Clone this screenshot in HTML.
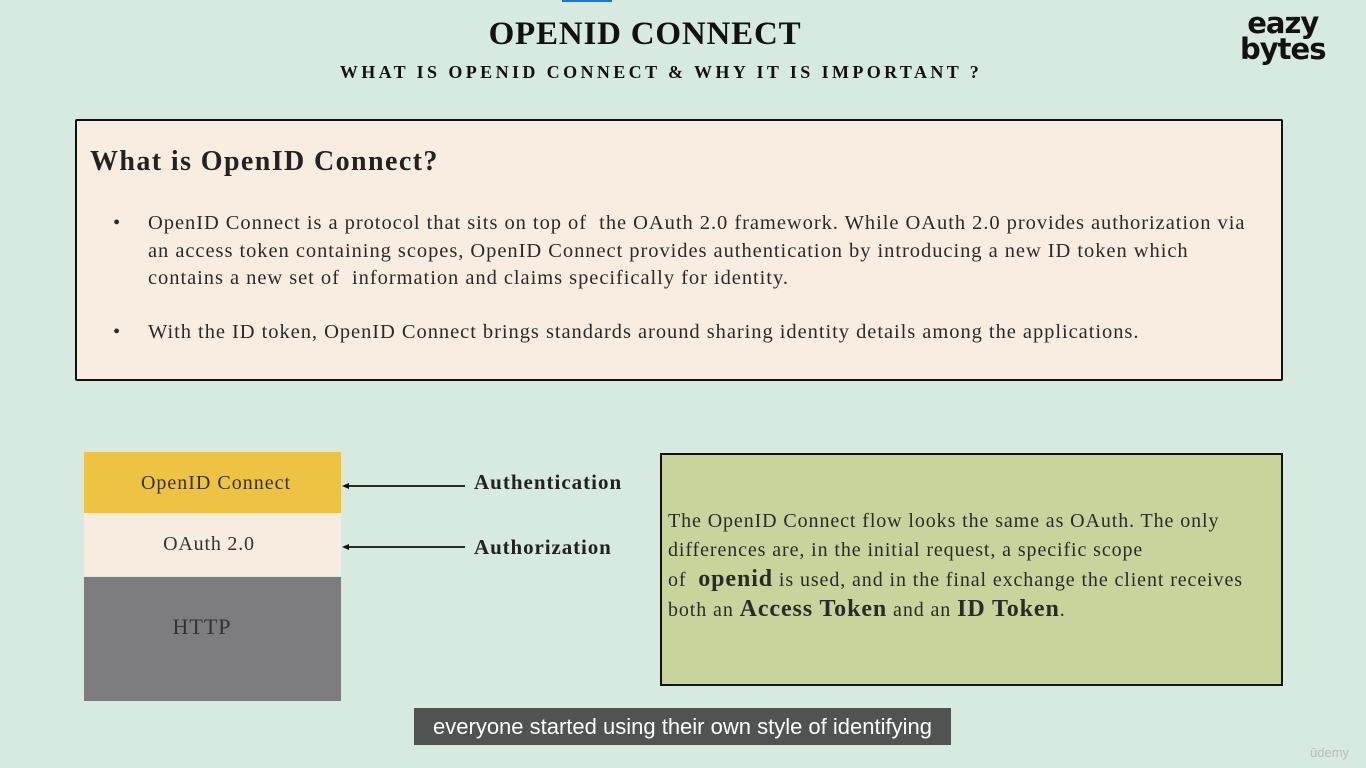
<!DOCTYPE html>
<html><head><meta charset="utf-8"><style>
html,body{margin:0;padding:0}
body{width:1366px;height:768px;background:#d6eae0;position:relative;overflow:hidden;font-family:"Liberation Serif",serif;color:#222}
.a{position:absolute}
.nw{white-space:nowrap}
</style></head><body>
<div class="a" style="left:562px;top:0;width:50px;height:2px;background:#1a73e8"></div>
<div class="a" style="left:0;top:16px;width:1290px;text-align:center;font-size:33px;font-weight:bold;letter-spacing:0.8px;color:#111">OPENID CONNECT</div>
<div class="a nw" style="left:0;top:62px;width:1322px;text-align:center;font-size:18px;font-weight:bold;letter-spacing:3.4px;color:#111">WHAT IS OPENID CONNECT &amp; WHY IT IS IMPORTANT ?</div>
<div class="a" style="left:1240px;top:10px;font-family:'DejaVu Sans',sans-serif;font-weight:bold;font-size:29px;line-height:26px;color:#111;letter-spacing:-1px;text-align:center">eazy<br>bytes</div>

<div class="a" style="left:75px;top:119px;width:1204px;height:258px;background:#f8ede0;border:2.5px solid #111;border-radius:2px"></div>
<div class="a nw" style="left:90px;top:146px;font-size:28px;font-weight:bold;letter-spacing:1.4px;color:#222">What is OpenID Connect?</div>
<div class="a nw" style="left:113px;top:210px;font-size:20.5px;line-height:27.5px;letter-spacing:0.95px;color:#2a2a2a">
<div style="position:relative;padding-left:35px">
<span style="position:absolute;left:0">•</span>OpenID Connect is a protocol that sits on top of&nbsp; the OAuth 2.0 framework. While OAuth 2.0 provides authorization via<br>an access token containing scopes, OpenID Connect provides authentication by introducing a new ID token which<br>contains a new set of&nbsp; information and claims specifically for identity.</div>
<div style="position:relative;padding-left:35px;margin-top:26px">
<span style="position:absolute;left:0">•</span>With the ID token, OpenID Connect brings standards around sharing identity details among the applications.</div>
</div>

<div class="a" style="left:84px;top:452px;width:257px;height:61px;background:#eec242"></div>
<div class="a" style="left:84px;top:513px;width:257px;height:63px;background:#f8ebdf"></div>
<div class="a" style="left:84px;top:577px;width:257px;height:124px;background:#7d7c7e"></div>
<div class="a nw" style="left:84px;top:472px;width:264px;text-align:center;font-size:20px;letter-spacing:1px;color:#333">OpenID Connect</div>
<div class="a nw" style="left:84px;top:533px;width:250px;text-align:center;font-size:20px;letter-spacing:0.8px;color:#333">OAuth 2.0</div>
<div class="a nw" style="left:84px;top:614px;width:236px;text-align:center;font-size:22px;letter-spacing:1px;color:#333">HTTP</div>
<svg class="a" style="left:340px;top:475px" width="130" height="80">
<line x1="6" y1="11" x2="125" y2="11" stroke="#111" stroke-width="1.8"/><polygon points="2,11 9,8 9,14" fill="#111"/>
<line x1="6" y1="72" x2="125" y2="72" stroke="#111" stroke-width="1.8"/><polygon points="2,72 9,69 9,75" fill="#111"/>
</svg>
<div class="a nw" style="left:474px;top:470px;font-size:21px;font-weight:bold;letter-spacing:1px;color:#222">Authentication</div>
<div class="a nw" style="left:474px;top:535px;font-size:21px;font-weight:bold;letter-spacing:0.9px;color:#222">Authorization</div>

<div class="a" style="left:660px;top:453px;width:619px;height:229px;background:#c8d49c;border:2.5px solid #111"></div>
<div class="a nw" style="left:668px;top:507px;font-size:20px;line-height:29px;letter-spacing:0.9px;color:#2a2a2a">The OpenID Connect flow looks the same as OAuth. The only<br>differences are, in the initial request, a specific scope<br>of&nbsp; <b style="font-size:24px">openid</b> is used, and in the final exchange the client receives<br>both an <b style="font-size:24px">Access Token</b> and an <b style="font-size:24px">ID Token</b>.</div>

<div class="a" style="left:414px;top:708px;width:537px;height:37px;background:#4f5352;color:#fff;font-family:'Liberation Sans',sans-serif;font-size:22px;line-height:37px;text-align:center">everyone started using their own style of identifying</div>
<div class="a" style="left:1310px;top:745px;font-family:'Liberation Sans',sans-serif;font-size:13px;color:#bbb">ūdemy</div>
</body></html>
